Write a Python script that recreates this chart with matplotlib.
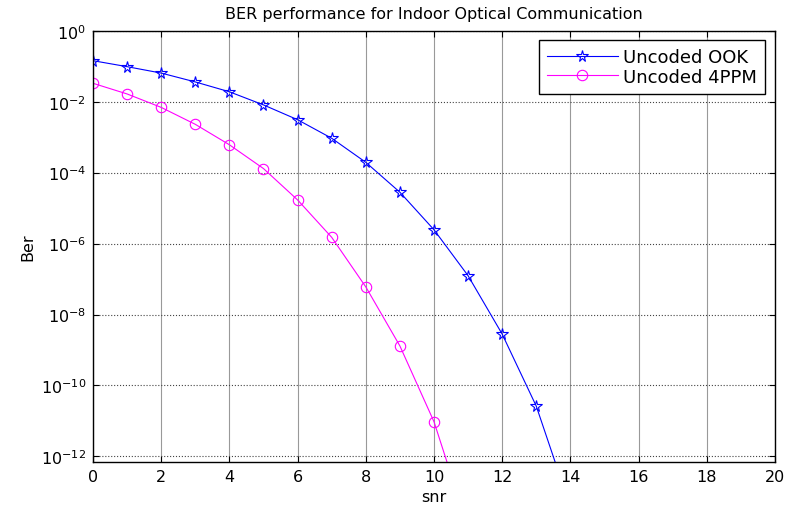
import numpy as np
import matplotlib
matplotlib.use("Agg")
import matplotlib.pyplot as plt

# datos
snr_ook = [0, 1, 2, 3, 4, 5, 6, 7, 8, 9, 10, 11, 12, 13, 14]
ber_ook = [0.143, 0.097, 0.064, 0.036, 0.019, 8.1e-3, 3.1e-3, 9.3e-4,
           1.95e-4, 2.8e-5, 2.45e-6, 1.24e-7, 2.8e-9, 2.6e-11, 3.7e-14]

snr_ppm = [0, 1, 2, 3, 4, 5, 6, 7, 8, 9, 10, 11]
ber_ppm = [0.033, 0.0165, 6.9e-3, 2.3e-3, 6.1e-4, 1.3e-4, 1.7e-5, 1.5e-6,
           6.0e-8, 1.3e-9, 9.5e-12, 1.0e-14]

xticks = [0, 2, 4, 6, 8, 10, 12, 14, 16, 18, 20]
yticks = [1e0, 1e-2, 1e-4, 1e-6, 1e-8, 1e-10, 1e-12]

plt.rcParams['font.family'] = ['DejaVu Sans']

fig = plt.figure(figsize=(7.86, 5.10), dpi=100)
ax = fig.add_axes([0.1183, 0.0927, 0.8677, 0.8451])

ax.semilogy(snr_ook, ber_ook, color='#0000ff', lw=0.8, marker='*',
            ms=8.5, mfc='none', mec='#0000ff', mew=0.8, label='Uncoded OOK')
ax.semilogy(snr_ppm, ber_ppm, color='#ff00ff', lw=0.8, marker='o',
            ms=7.5, mfc='none', mec='#ff00ff', mew=0.8, label='Uncoded 4PPM')

ax.set_xlim(0, 20)
ax.set_ylim(10 ** -12.15, 1)
ax.set_xticks(xticks)
ax.set_yticks(yticks)
ax.yaxis.set_minor_locator(matplotlib.ticker.NullLocator())

ax.xaxis.grid(True, color='#999999', ls='-', lw=0.8)
ax.yaxis.grid(True, color='#444444', ls=':', lw=0.8)
ax.set_axisbelow(True)

ax.tick_params(direction='in', length=4, width=0.8, top=True, right=True,
               labelsize=11.5, pad=5)
for s in ax.spines.values():
    s.set_linewidth(1.0)

ax.set_title('BER performance for Indoor Optical Communication',
             fontsize=11.5, pad=9)
ax.set_xlabel('snr', fontsize=11.5, labelpad=4)
ax.set_ylabel('Ber', fontsize=11.5, labelpad=4)

leg = ax.legend(loc='upper right', bbox_to_anchor=(0.9853, 0.979),
                borderaxespad=0, fontsize=13, fancybox=False,
                edgecolor='black', framealpha=1, handlelength=3.9,
                handletextpad=0.3, labelspacing=0.1, borderpad=0.45)
leg.get_frame().set_linewidth(1.0)

plt.savefig('out.png', dpi=100)
